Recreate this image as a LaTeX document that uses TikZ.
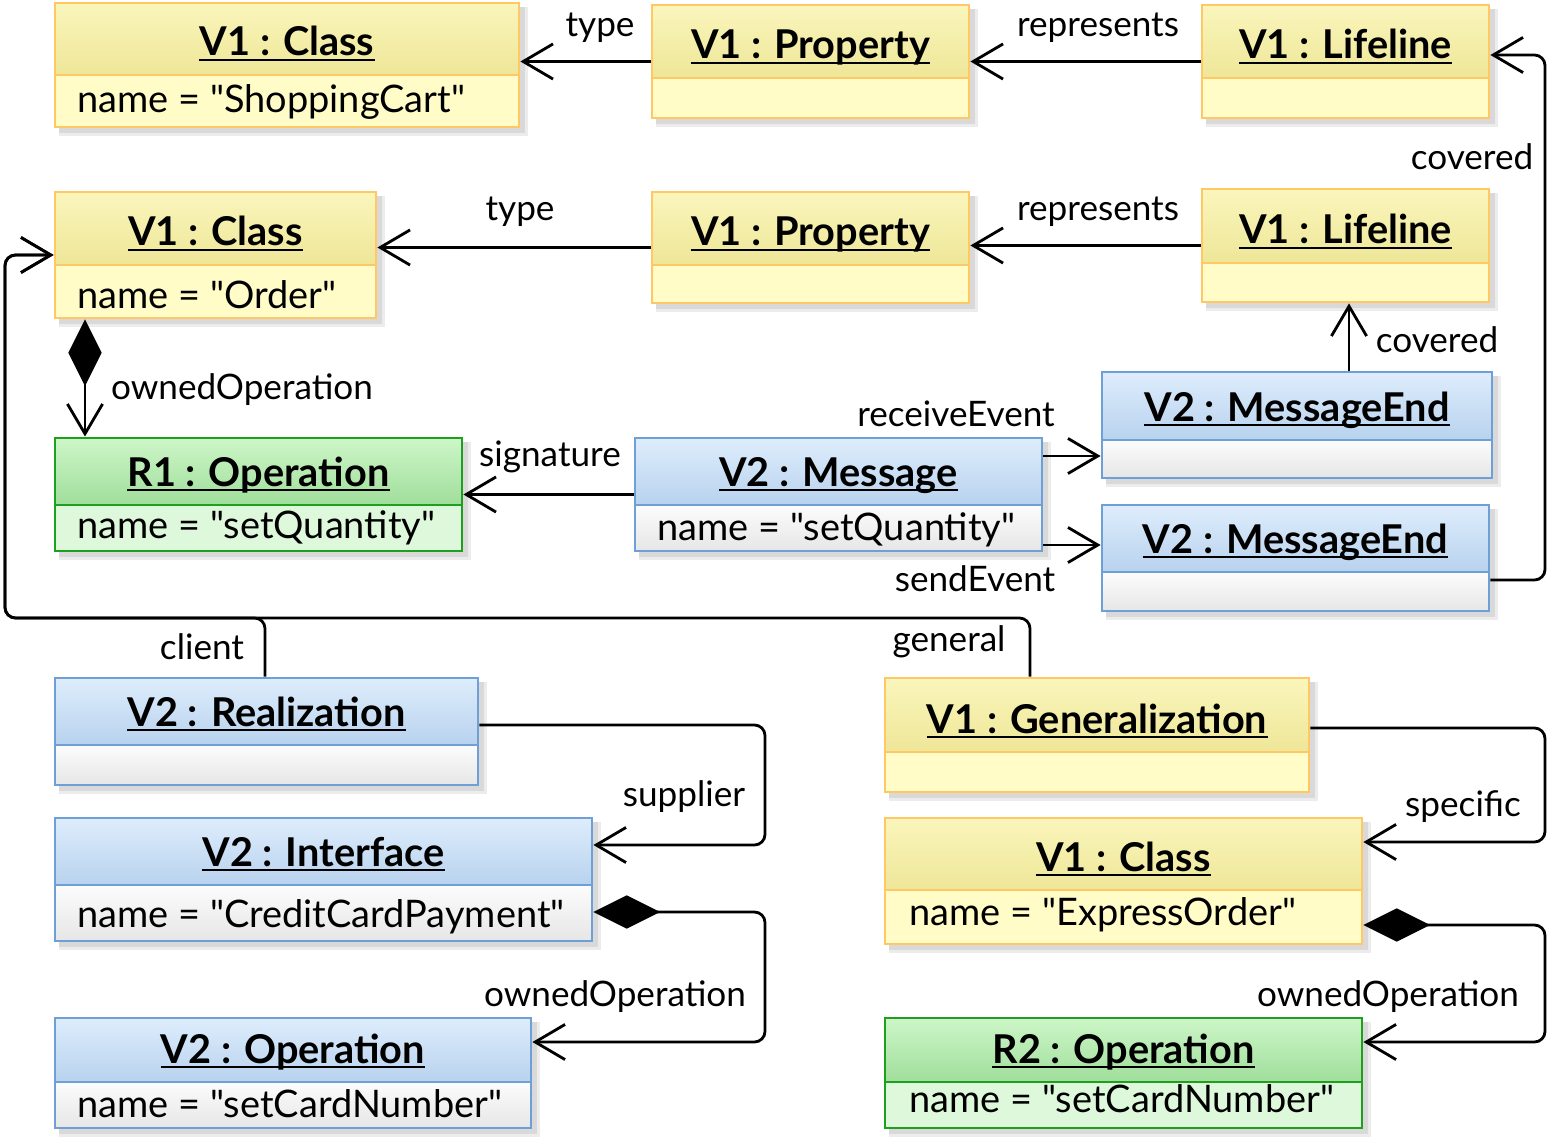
\documentclass[tikz,border=0pt]{standalone}
\usepackage{fontspec}
\setmainfont{Lato}[Ligatures=TeXOff]
\usetikzlibrary{arrows.meta,fit,calc}
\definecolor{YelLine}{RGB}{255,200,100}
\definecolor{YelTop}{RGB}{250,246,188}
\definecolor{YelBot}{RGB}{238,230,152}
\definecolor{YelBodyTop}{RGB}{255,252,200}
\definecolor{YelBodyBot}{RGB}{255,252,200}
\definecolor{BluLine}{RGB}{110,160,215}
\definecolor{BluTop}{RGB}{222,237,252}
\definecolor{BluBot}{RGB}{184,210,238}
\definecolor{BluBodyTop}{RGB}{252,252,252}
\definecolor{BluBodyBot}{RGB}{230,230,230}
\definecolor{GrnLine}{RGB}{30,160,30}
\definecolor{GrnTop}{RGB}{205,246,200}
\definecolor{GrnBot}{RGB}{160,222,155}
\definecolor{GrnBodyTop}{RGB}{222,248,220}
\definecolor{GrnBodyBot}{RGB}{222,248,220}

\tikzset{
  lbl/.style={font=\fontsize{20}{23}\selectfont, inner sep=0pt},
  objtitle/.style={font=\bfseries\fontsize{22.6}{26}\selectfont, inner sep=0pt, anchor=base},
  objattr/.style={font=\fontsize{21.6}{25}\selectfont, inner sep=0pt, anchor=base west},
  assoc/.style={draw, line width=1.6pt, rounded corners=6pt,
    -{Straight Barb[length=17pt,width=20pt]}},
  comp/.style={draw, line width=1.6pt, rounded corners=6pt,
    {Diamond[length=38pt,width=19pt]}-{Straight Barb[length=17pt,width=20pt]}},
}

% object box: name, x1, y1, x2, y2, divider, colour set, title
\newcommand{\umlobj}[8]{%
  \fill[gray!15] (#2+4,#3+4) rectangle (#4+9,#5+9);
  \fill[gray!30] (#2+4,#3+4) rectangle (#4+6,#5+6);
  \shade[top color=#7Top, bottom color=#7Bot] (#2,#3) rectangle (#4,#6);
  \shade[top color=#7BodyTop, bottom color=#7BodyBot] (#2,#6) rectangle (#4,#5);
  \draw[#7Line, line width=1.6pt] (#2,#6) -- (#4,#6);
  \coordinate (#1-nw) at (#2,#3);
  \coordinate (#1-se) at (#4,#5);
  \node[fit=(#1-nw)(#1-se), inner sep=0pt, draw=#7Line, line width=1.6pt] (#1) {};
  \node[objtitle] (#1-title) at ({(#2+#4)/2},#6-19) {#8};
  \draw[line width=1.5pt] ($(#1-title.base west)+(0,4)$) -- ($(#1-title.base east)+(0,4)$);
}

\begin{document}
\begin{tikzpicture}[x=0.02cm,y=-0.02cm]
\useasboundingbox (0,0) rectangle (1547,1145);

% objects
\umlobj{cart}{55}{3}{519}{127}{75}{Yel}{V1 : Class}
\umlobj{propA}{652}{5}{969}{118}{78}{Yel}{V1 : Property}
\umlobj{lifeA}{1202}{5}{1489}{118}{78}{Yel}{V1 : Lifeline}
\umlobj{order}{55}{192}{376}{318}{265}{Yel}{V1 : Class}
\umlobj{propB}{652}{192}{969}{303}{265}{Yel}{V1 : Property}
\umlobj{lifeB}{1202}{189}{1489}{302}{263}{Yel}{V1 : Lifeline}
\umlobj{endR}{1102}{372}{1492}{478}{440}{Blu}{V2 : MessageEnd}
\umlobj{opR}{55}{438}{462}{551}{505}{Grn}{R1 : Operation}
\umlobj{msg}{635}{438}{1042}{551}{505}{Blu}{V2 : Message}
\umlobj{endS}{1102}{505}{1489}{611}{572}{Blu}{V2 : MessageEnd}
\umlobj{real}{55}{678}{478}{785}{745}{Blu}{V2 : Realization}
\umlobj{gen}{885}{678}{1309}{792}{752}{Yel}{V1 : Generalization}
\umlobj{iface}{55}{818}{592}{941}{885}{Blu}{V2 : Interface}
\umlobj{express}{885}{818}{1362}{944}{890}{Yel}{V1 : Class}
\umlobj{opV}{55}{1018}{531}{1128}{1082}{Blu}{V2 : Operation}
\umlobj{opS}{885}{1018}{1362}{1128}{1082}{Grn}{R2 : Operation}

% attributes
\node[objattr] (cart-attr) at (77,113) {name = "ShoppingCart"};
\node[objattr] (order-attr) at (77,309) {name = "Order"};
\node[objattr] (opR-attr) at (77,538) {name = "setQuantity"};
\node[objattr] (msg-attr) at (657,540) {name = "setQuantity"};
\node[objattr] (iface-attr) at (77,927) {name = "CreditCardPayment"};
\node[objattr] (express-attr) at (909,925) {name = "ExpressOrder"};
\node[objattr] (opV-attr) at (77,1117) {name = "setCardNumber"};
\node[objattr] (opS-attr) at (909,1112) {name = "setCardNumber"};

% bend points
\coordinate (covA) at (1545,580);
\coordinate (covB) at (1545,55);
\coordinate (covX) at (1349,0);
\coordinate (ownX) at (85,0);
\coordinate (rcvY) at (0,456);
\coordinate (sndY) at (0,545);
\coordinate (cliX) at (265,0);
\coordinate (genX) at (1030,0);
\coordinate (busL) at (5,618);
\coordinate (supA) at (765,725);
\coordinate (supB) at (765,845);
\coordinate (ioA) at (765,912);
\coordinate (ioB) at (765,1042);
\coordinate (spA) at (1545,728);
\coordinate (spB) at (1545,842);
\coordinate (eoA) at (1545,925);
\coordinate (eoB) at (1545,1042);

% connectors
\draw[assoc] (propA.west) -- (propA.west -| cart.east);
\draw[assoc] (lifeA.west) -- (lifeA.west -| propA.east);
\draw[assoc] (endS.east |- covA) -- (covA) -- (covB) -- (lifeA.east |- covB);
\draw[assoc] (propB.west) -- (propB.west -| order.east);
\draw[assoc] (lifeB.west) -- (lifeB.west -| propB.east);
\draw[assoc] (endR.north -| covX) -- (lifeB.south -| covX);
\draw[comp] (order.south -| ownX) -- (opR.north -| ownX);
\draw[assoc] (msg.west) -- (msg.west -| opR.east);
\draw[assoc] (msg.east |- rcvY) -- (endR.west |- rcvY);
\draw[assoc] (msg.east |- sndY) -- (endS.west |- sndY);
\draw[assoc] (real.north -| cliX) |- (busL) |- (order.west);
\draw[assoc] (gen.north -| genX) |- (busL) |- (order.west);
\draw[assoc] (real.east |- supA) -- (supA) -- (supB) -- (iface.east |- supB);
\draw[comp] (iface.east |- ioA) -- (ioA) -- (ioB) -- (opV.east |- ioB);
\draw[assoc] (gen.east |- spA) -- (spA) -- (spB) -- (express.east |- spB);
\draw[comp] (express.east |- eoA) -- (eoA) -- (eoB) -- (opS.east |- eoB);

% role labels
\node[lbl] (l-typeA) at (600,28) {type};
\node[lbl] (l-repA) at (1098,28) {represents};
\node[lbl] (l-covA) at (1472,157) {covered};
\node[lbl] (l-typeB) at (520,212) {type};
\node[lbl] (l-repB) at (1098,212) {represents};
\node[lbl] (l-covB) at (1437,340) {covered};
\node[lbl] (l-ownA) at (242,390) {ownedOperation};
\node[lbl] (l-sig) at (550,457) {signature};
\node[lbl] (l-rcv) at (956,414) {receiveEvent};
\node[lbl] (l-snd) at (975,579) {sendEvent};
\node[lbl] (l-cli) at (202,647) {client};
\node[lbl] (l-gen) at (949,642) {general};
\node[lbl] (l-sup) at (684,797) {supplier};
\node[lbl] (l-ownB) at (615,997) {ownedOperation};
\node[lbl] (l-spec) at (1463,807) {specific};
\node[lbl] (l-ownC) at (1388,997) {ownedOperation};
\end{tikzpicture}
\end{document}
